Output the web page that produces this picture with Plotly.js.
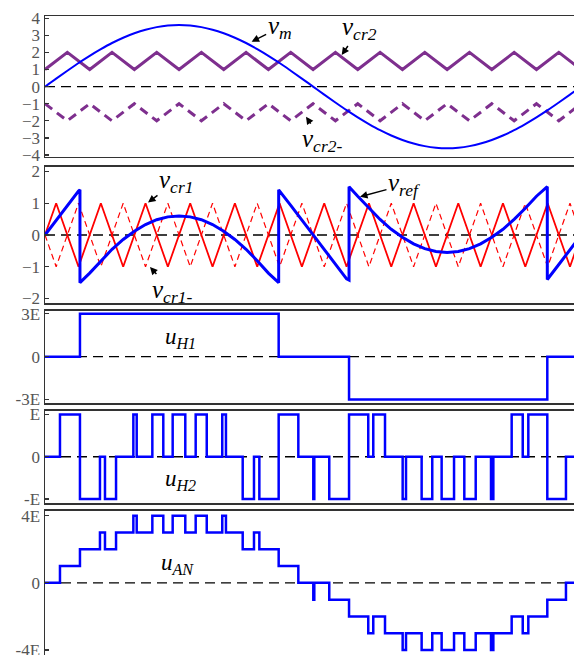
<!DOCTYPE html>
<html>
<head>
<meta charset="utf-8">
<script src="https://cdn.plot.ly/plotly-3.0.1.min.js"></script>
<style>html,body{margin:0;padding:0;background:#fff;}#chart{width:574px;height:655px;}</style>
</head>
<body>
<div id="chart"></div>
<script>
// ---- data (time in units where one fundamental period = 48) ----
const vmT = [0,1,2,3,4,5,6,7,8,9,10,11,12,13,14,15,16,17,18,19,20,21,22,23,24,25,26,27,28,29,30,31,32,33,34,35,36,37,38,39,40,41,42,43,44,45,46,47,48];
const vmV = [0,0.47,0.93,1.38,1.80,2.19,2.55,2.86,3.12,3.33,3.48,3.57,3.60,3.57,3.48,3.33,3.12,2.86,2.55,2.19,1.80,1.38,0.93,0.47,0,-0.47,-0.93,-1.38,-1.80,-2.19,-2.55,-2.86,-3.12,-3.33,-3.48,-3.57,-3.60,-3.57,-3.48,-3.33,-3.12,-2.86,-2.55,-2.19,-1.80,-1.38,-0.93,-0.47,0];

const cr2T = [0,2,4,6,8,10,12,14,16,18,20,22,24,26,28,30,32,34,36,38,40,42,44,46,48];
const vcr2 = [1,2,1,2,1,2,1,2,1,2,1,2,1,2,1,2,1,2,1,2,1,2,1,2,1];
const vcr2n = [-1,-2,-1,-2,-1,-2,-1,-2,-1,-2,-1,-2,-1,-2,-1,-2,-1,-2,-1,-2,-1,-2,-1,-2,-1];

const cr1T = [0,1,3,5,7,9,11,13,15,17,19,21,23,25,27,29,31,33,35,37,39,41,43,45,47,49];
const vcr1 = [0,1,-1,1,-1,1,-1,1,-1,1,-1,1,-1,1,-1,1,-1,1,-1,1,-1,1,-1,1,-1,1];
const vcr1n = [0,-1,1,-1,1,-1,1,-1,1,-1,1,-1,1,-1,1,-1,1,-1,1,-1,1,-1,1,-1,1,-1];

const vrefT = [0,1,2,3,3.13, 3.13,4,5,6,7,8,9,10,11,12,13,14,15,16,17,18,19,20,20.92,
  20.92,22,23,24,25,26,27,27.22,
  27.22,28,29,30,31,32,33,34,35,36,37,38,39,40,41,42,43,44,44.97,
  44.97,46,47,48];
const vrefV = [0,0.47,0.93,1.38,1.42, -1.5,-1.2,-0.81,-0.45,-0.14,0.12,0.33,0.48,0.57,0.6,0.57,0.48,0.33,0.12,-0.14,-0.45,-0.81,-1.2,-1.5,
  1.42,0.93,0.47,0,-0.47,-0.93,-1.38,-1.42,
  1.52,1.22,0.84,0.49,0.18,-0.07,-0.28,-0.43,-0.52,-0.55,-0.52,-0.43,-0.28,-0.07,0.18,0.49,0.84,1.22,1.52,
  -1.4,-0.93,-0.47,0];

const uH1T = [0,3.13,20.92,27.22,44.97,48];
const uH1V = [0,3,0,-3,0,0];

const uH2T = [0,1.34,3.13,4.92,5.37,6.36,7.91,8.21,9.61,10.59,11.43,12.56,13.49,14.48,15.87,16.20,17.70,18.71,19.19,20.92,22.68,24.02,24.11,25.45,27.22,28.94,29.39,30.44,32.02,32.32,33.72,34.67,35.51,36.62,37.54,38.56,39.93,40.14,41.78,42.77,43.27,44.97,46.64,48];
const uH2V = [0,1,-1,0,-1,0,1,0,1,0,1,0,1,0,1,0,-1,0,-1,1,0,-1,0,-1,1,0,1,0,-1,0,-1,0,-1,0,-1,0,-1,0,1,0,1,-1,0,0];

const uANT = [0,1.34,3.13,4.92,5.37,6.36,7.91,8.21,9.61,10.59,11.43,12.56,13.49,14.48,15.87,16.20,17.70,18.71,19.19,20.92,22.68,24.02,24.11,25.45,27.22,28.94,29.39,30.44,32.02,32.32,33.72,34.67,35.51,36.62,37.54,38.56,39.93,40.14,41.78,42.77,43.27,44.97,46.64,48];
const uANV = [0,1,2,3,2,3,4,3,4,3,4,3,4,3,4,3,2,3,2,1,0,-1,0,-1,-2,-3,-2,-3,-4,-3,-4,-3,-4,-3,-4,-3,-4,-3,-2,-3,-2,-1,0,0];

const zeroT = [0,48];
const zeroV = [0,0];

// tick labels
const p1Ticks = [-4,-3,-2,-1,0,1,2,3,4];
const p2Ticks = [-2,-1,0,1,2];
const p3Ticks = [-3,0,3], p3Text = ['-3E','0','3E'];
const p4Ticks = [-1,0,1], p4Text = ['-E','0','E'];
const p5Ticks = [-4,0,4], p5Text = ['-4E','0','4E'];

// ---- styles ----
const BLUE = '#0000FF', RED = '#FF0000', PURPLE = '#7E2F8E';
const serif = 'Liberation Serif, Times New Roman, Times, serif';
const zeroLine = (xa, ya) => ({x: zeroT, y: zeroV, xaxis: xa, yaxis: ya, mode: 'lines',
  line: {color: '#000', width: 1.4, dash: '10px,6px'}, hoverinfo: 'skip'});

const traces = [
  zeroLine('x','y'),
  {x: cr2T, y: vcr2, xaxis:'x', yaxis:'y', mode:'lines', line:{color:PURPLE, width:3}},
  {x: cr2T, y: vcr2n, xaxis:'x', yaxis:'y', mode:'lines', line:{color:PURPLE, width:3, dash:'9px,6px'}},
  {x: vmT, y: vmV, xaxis:'x', yaxis:'y', mode:'lines', line:{color:BLUE, width:2, shape:'spline'}},

  zeroLine('x2','y2'),
  {x: cr1T, y: vcr1n, xaxis:'x2', yaxis:'y2', mode:'lines', line:{color:RED, width:1.2, dash:'6px,4px'}},
  {x: cr1T, y: vcr1, xaxis:'x2', yaxis:'y2', mode:'lines', line:{color:RED, width:1.8}},
  {x: vrefT, y: vrefV, xaxis:'x2', yaxis:'y2', mode:'lines', line:{color:BLUE, width:3}},

  zeroLine('x3','y3'),
  {x: uH1T, y: uH1V, xaxis:'x3', yaxis:'y3', mode:'lines', line:{color:BLUE, width:2.5, shape:'hv'}},

  zeroLine('x4','y4'),
  {x: uH2T, y: uH2V, xaxis:'x4', yaxis:'y4', mode:'lines', line:{color:BLUE, width:2.5, shape:'hv'}},

  zeroLine('x5','y5'),
  {x: uANT, y: uANV, xaxis:'x5', yaxis:'y5', mode:'lines', line:{color:BLUE, width:2.5, shape:'hv'}}
];

const XR = [0, 47.36];
const xax = (anchor) => ({anchor: anchor, range: XR, showline: true, mirror: true, linecolor: '#333',
  linewidth: 1.5, showticklabels: false, ticks: '', showgrid: false, zeroline: false, fixedrange: true});
const yax = (domain, range, vals, text) => {
  const a = {domain: domain, range: range, tickmode: 'array', tickvals: vals, ticks: 'inside', ticklen: 4,
    tickcolor: '#333', tickwidth: 1.2, showline: true, linecolor: '#333', linewidth: 1.5,
    showgrid: false, zeroline: false, ticklabeloverflow: 'allow',
    tickfont: {family: serif, size: 17, color: '#555'}, fixedrange: true};
  if (text) a.ticktext = text;
  return a;
};

const annFont = (s) => ({family: serif, size: s, color: '#000', style: 'italic'});
const arrow = {showarrow: true, arrowhead: 2, arrowsize: 1, arrowwidth: 1.5, arrowcolor: '#000', standoff: 0};

const annotations = [
  Object.assign({xref:'x', yref:'y', x:18.5, y:2.63, ax:28, ay:-14, text:'v<sub>m</sub>', font:annFont(25)}, arrow),
  Object.assign({xref:'x', yref:'y', x:26.56, y:1.85, ax:18, ay:-26, text:'v<sub>cr2</sub>', font:annFont(25)}, arrow),
  Object.assign({xref:'x', yref:'y', x:23.37, y:-1.76, ax:16, ay:24, text:'v<sub>cr2-</sub>', font:annFont(25)}, arrow),
  Object.assign({xref:'x2', yref:'y2', x:9.22, y:1.02, ax:28, ay:-21, text:'v<sub>cr1</sub>', font:annFont(25)}, arrow),
  Object.assign({xref:'x2', yref:'y2', x:9.4, y:-1.01, ax:22, ay:24, text:'v<sub>cr1-</sub>', font:annFont(25)}, arrow),
  Object.assign({xref:'x2', yref:'y2', x:28.2, y:1.2, ax:44, ay:-12, text:'v<sub>ref</sub>', font:annFont(25)}, arrow),
  {xref:'x3', yref:'y3', x:12.1, y:1.33, showarrow:false, text:'u<sub>H1</sub>', font:annFont(23)},
  {xref:'x4', yref:'y4', x:12.1, y:-0.55, showarrow:false, text:'u<sub>H2</sub>', font:annFont(23)},
  {xref:'x5', yref:'y5', x:11.9, y:1.12, showarrow:false, text:'u<sub>AN</sub>', font:annFont(23)}
];

const layout = {
  width: 574, height: 655,
  margin: {l: 45, r: 0, t: 16, b: 0, pad: 0},
  paper_bgcolor: '#fff', plot_bgcolor: '#fff',
  showlegend: false,
  font: {family: serif},
  xaxis: xax('y'), xaxis2: xax('y2'), xaxis3: xax('y3'), xaxis4: xax('y4'), xaxis5: xax('y5'),
  yaxis: yax([0.7798, 1], [-4.1, 4.13], p1Ticks),
  yaxis2: yax([0.5504, 0.7642], [-2.15, 2.15], p2Ticks),
  yaxis3: yax([0.3939, 0.5388], [-3.27, 3.22], p3Ticks, p3Text),
  yaxis4: yax([0.2374, 0.3823], [-1.1, 1.09], p4Ticks, p4Text),
  yaxis5: yax([0.0, 0.2258], [-4.3, 4.3], p5Ticks, p5Text),
  annotations: annotations
};

Plotly.newPlot('chart', traces, layout, {staticPlot: true, displayModeBar: false});
</script>
</body>
</html>
